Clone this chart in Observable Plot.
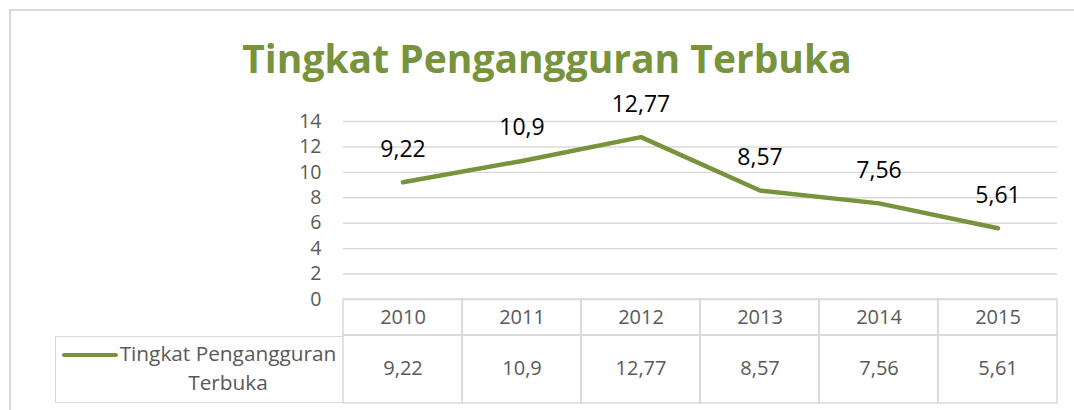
<!DOCTYPE html>
<html>
<head>
<meta charset="utf-8">
<script src="https://cdn.jsdelivr.net/npm/d3@7"></script>
<script src="https://cdn.jsdelivr.net/npm/@observablehq/plot@0.6"></script>
<style>
  html, body { margin: 0; padding: 0; background: #fff; overflow: hidden; }
  #wrap { position: relative; width: 1074px; height: 410px; overflow: hidden; font-family: "Open Sans", sans-serif; }
  #frame { position: absolute; left: 9px; top: 9px; width: 1100px; height: 440px; border: 2px solid #d9d9d9; box-sizing: border-box; }
  #title { position: absolute; left: 0; width: 1094px; top: 38px; text-align: center; font-size: 39px; line-height: 1; font-weight: 700; color: #77933c; white-space: nowrap; }
  #chart { position: absolute; left: 0; top: 0; }
  #legend { position: absolute; left: 55px; top: 336px; width: 289px; height: 67px; border: 1.5px solid #d9d9d9; border-right: none; box-sizing: border-box; }
  #legend .sw { position: absolute; left: 6px; top: 15.5px; width: 56px; height: 4.5px; border-radius: 3px; background: #77933c; }
  #legend .tx { position: absolute; left: 61px; width: 222px; top: 2px; text-align: center; font-size: 20.8px; line-height: 28.5px; color: #595959; white-space: nowrap; }
</style>
</head>
<body>
<div id="wrap">
  <div id="frame"></div>
  <div id="title"></div>
  <div id="chart"></div>
  <div id="legend"><div class="sw"></div><div class="tx"></div></div>
</div>
<script>
const titleText = "Tingkat Pengangguran Terbuka";
const seriesName = "Tingkat Pengangguran Terbuka";
const years = ["2010", "2011", "2012", "2013", "2014", "2015"];
const values = [9.22, 10.9, 12.77, 8.57, 7.56, 5.61];
const yTicks = [0, 2, 4, 6, 8, 10, 12, 14];

const fmt = v => String(v).replace(".", ",");
const data = years.map((year, i) => ({year, value: values[i], label: fmt(values[i])}));

document.getElementById("title").textContent = titleText;
document.querySelector("#legend .tx").innerHTML = "Tingkat Pengangguran<br>Terbuka";

const green = "#77933c";
const grid = "#d9d9d9";
const gray = "#595959";

const chart = Plot.plot({
  width: 1074,
  height: 410,
  marginTop: 121,
  marginBottom: 111,
  marginLeft: 343,
  marginRight: 17,
  style: { fontFamily: "Open Sans, sans-serif", color: gray, background: "transparent", overflow: "visible" },
  x: { type: "band", domain: years, padding: 0, axis: null },
  y: { domain: [0, 14], axis: null },
  marks: [
    Plot.gridY(yTicks, { stroke: grid, strokeOpacity: 1, strokeWidth: 1.4 }),
    Plot.axisY(yTicks, { tickSize: 0, tickPadding: 22, fontSize: 19.5, fill: gray, label: null }),
    // data table: header row and value row
    Plot.barY(data, { x: "year", y1: 0, y2: 0, insetBottom: -36, fill: "none", stroke: grid, strokeWidth: 1.5 }),
    Plot.barY(data, { x: "year", y1: 0, y2: 0, insetTop: 36, insetBottom: -104, fill: "none", stroke: grid, strokeWidth: 1.5 }),
    Plot.text(data, { x: "year", y: 0, text: "year", dy: 18, fontSize: 20, fill: gray }),
    Plot.text(data, { x: "year", y: 0, text: "label", dy: 69, fontSize: 20, fill: gray }),
    // series
    Plot.line(data, { x: "year", y: "value", stroke: green, strokeWidth: 4.5, strokeLinecap: "round", strokeLinejoin: "round" }),
    Plot.text(data, { x: "year", y: "value", text: "label", dy: -33, fontSize: 23, fill: "black" })
  ]
});
document.getElementById("chart").appendChild(chart);
</script>
</body>
</html>
